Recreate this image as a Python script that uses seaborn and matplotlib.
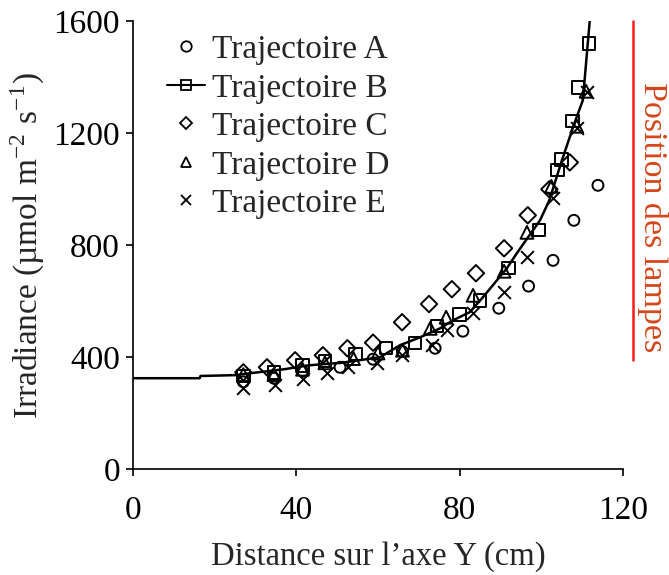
import matplotlib
matplotlib.use("Agg")
import matplotlib.pyplot as plt
from matplotlib.lines import Line2D
import seaborn as sns
import pandas as pd

# Trajectory measurements: distance along Y axis (cm) and irradiance (µmol m-2 s-1)
traj_a_x = [27, 34.5, 41.5, 50.7, 58.8, 66, 74, 80.8, 89.6, 96.9, 102.9, 108, 113.9]
traj_a_y = [312, 325, 350, 364, 393, 420, 432, 493, 575, 654, 746, 889, 1014]

traj_b_x = [27, 34.5, 41.5, 47, 54.5, 62, 69, 74.5, 80, 85, 92, 99.5, 104, 105, 107.7, 109, 111.7]
traj_b_y = [333, 346, 371, 386, 412, 432, 450, 512, 552, 603, 718, 854, 1068, 1107, 1243, 1364, 1521]

traj_c_x = [27, 32.8, 39.7, 46.5, 52.5, 58.8, 65.9, 72.5, 78.1, 84, 90.9, 96.7, 102, 107]
traj_c_y = [346, 364, 389, 407, 432, 452, 525, 590, 643, 700, 789, 907, 1000, 1096]

traj_d_x = [27, 34.5, 41.5, 47, 54, 60, 66, 72.8, 76.7, 83.3, 90.9, 96.5, 102.5, 108.7, 111]
traj_d_y = [338, 338, 357, 380, 395, 415, 425, 503, 543, 621, 707, 846, 1010, 1225, 1350]

traj_e_x = [27, 34.8, 41.7, 47.5, 52.7, 59.8, 66, 73.2, 76.9, 83.3, 90.9, 96.5, 102.9, 108.7, 111.2]
traj_e_y = [289, 300, 321, 343, 364, 380, 407, 443, 496, 557, 632, 757, 968, 1218, 1346]

# Irradiance profile curve
curve_x = [0, 16.3, 16.5, 25, 30, 37, 43, 51, 60.5, 65.4, 70.3, 75.2, 78.4, 82.5,
           85.7, 91.6, 94, 96.8, 99.7, 102, 105, 108, 110.2, 112]
curve_y = [325, 325, 333, 336, 345, 357, 371, 380, 400, 443, 471, 503, 532, 561,
           614, 718, 771, 829, 889, 961, 1100, 1230, 1318, 1620]

legend_labels = ["Trajectoire A", "Trajectoire B", "Trajectoire C", "Trajectoire D", "Trajectoire E"]
lamp_x = 122.5
lamp_y = [390, 1600]

sns.set_theme(style="ticks")
plt.rcParams["font.family"] = ["Liberation Serif", "DejaVu Serif"]
plt.rcParams["mathtext.fontset"] = "stix"
FS = 24

fig = plt.figure(figsize=(6.69, 5.75), dpi=100)
ax = fig.add_axes([0.199, 0.184, 0.732, 0.779])

curve = pd.DataFrame({"x": curve_x, "y": curve_y})
sns.lineplot(data=curve, x="x", y="y", ax=ax, color="black", linewidth=1.8,
             sort=False, estimator=None)

lw = 1.4
sns.scatterplot(x=traj_a_x, y=traj_a_y, ax=ax, marker="o", facecolor="none",
                edgecolor="black", linewidth=lw, s=62, zorder=3)
sns.scatterplot(x=traj_b_x, y=traj_b_y, ax=ax, marker="s", facecolor="none",
                edgecolor="black", linewidth=lw, s=80, zorder=3)
sns.scatterplot(x=traj_c_x, y=traj_c_y, ax=ax, marker="D", facecolor="none",
                edgecolor="black", linewidth=lw, s=70, zorder=3)
sns.scatterplot(x=traj_d_x, y=traj_d_y, ax=ax, marker="^", facecolor="none",
                edgecolor="black", linewidth=lw, s=85, zorder=3)
sns.scatterplot(x=traj_e_x, y=traj_e_y, ax=ax, marker="x", color="black",
                linewidth=lw, s=85, zorder=3)

# Lamp position marker
ax.plot([lamp_x, lamp_x], lamp_y, color="#ff1a1a", linewidth=1.8, clip_on=False)
ax.text(127.2, 900, "Position des lampes", rotation=-90, color="#d4461a",
        fontsize=24.5, ha="center", va="center", clip_on=False)

ax.set_xlim(0, 120)
ax.set_ylim(0, 1600)
ax.set_xticks([0, 40, 80, 120])
ax.set_yticks([0, 400, 800, 1200, 1600])
ax.tick_params(axis="both", labelsize=FS, direction="out", length=5, width=1.2,
               colors="black")
ax.tick_params(axis="y", pad=4.5)
ax.tick_params(axis="x", pad=14)
for side in ["left", "bottom"]:
    ax.spines[side].set_linewidth(1.2)
    ax.spines[side].set_color("black")
sns.despine(ax=ax)

ax.set_xlabel("Distance sur l\u2019axe Y (cm)", fontsize=23.5, labelpad=11)
ax.set_ylabel("Irradiance (\u00b5mol m$^{\\mathregular{-2}}$ s$^{\\mathregular{-1}}$)",
              fontsize=FS, labelpad=5)

handle_style = dict(color="black", markerfacecolor="none", markeredgecolor="black",
                    markersize=7.5, markeredgewidth=1.3)
handles = [
    Line2D([], [], marker="o", linestyle="none", **handle_style),
    Line2D([], [], marker="s", linestyle="-", linewidth=1.5, **handle_style),
    Line2D([], [], marker="D", linestyle="none", **{**handle_style, "markersize": 6.5}),
    Line2D([], [], marker="^", linestyle="none", **handle_style),
    Line2D([], [], marker="x", linestyle="none", **handle_style),
]
ax.legend(handles, legend_labels, loc="upper left", bbox_to_anchor=(0.042, 1.0),
          frameon=False, fontsize=FS, handlelength=1.14, handletextpad=0.2,
          labelspacing=0.24, borderaxespad=0)

fig.savefig("out.png", dpi=100)
